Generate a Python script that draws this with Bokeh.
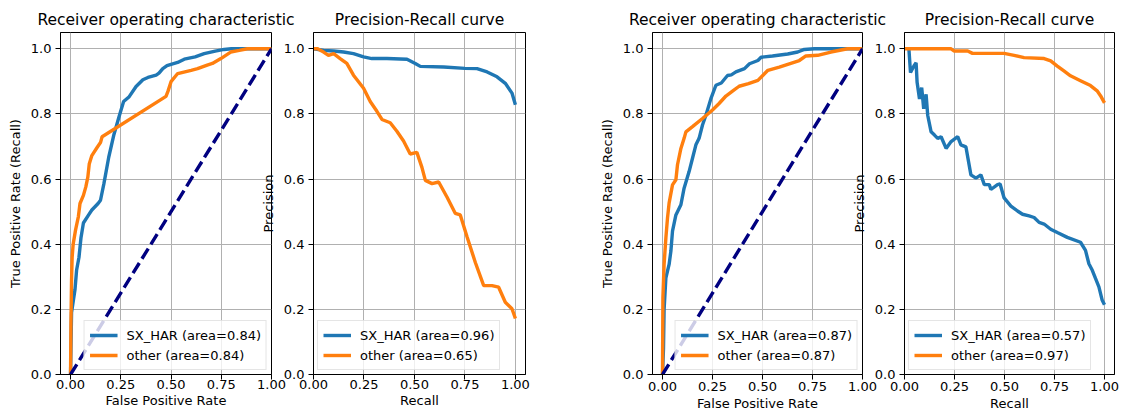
from bokeh.plotting import figure
from bokeh.layouts import row
from bokeh.models import Range1d, FixedTicker, NumeralTickFormatter
from bokeh.embed import file_html
from bokeh.resources import INLINE

# ---------------- data ----------------
roc_titles = "Receiver operating characteristic"
pr_titles = "Precision-Recall curve"
series_names = ["SX_HAR", "other"]

# panel 1 : ROC (left pair)
roc1_sx_fpr = [0, 0.005, 0.022, 0.03, 0.042, 0.052, 0.064, 0.09, 0.106, 0.137, 0.149, 0.166, 0.19,
               0.216, 0.242, 0.264, 0.292, 0.326, 0.36, 0.385, 0.426, 0.44, 0.459, 0.48, 0.5, 0.533,
               0.566, 0.62, 0.665, 0.72, 0.764, 0.8, 1.0]
roc1_sx_tpr = [0, 0.19, 0.26, 0.32, 0.36, 0.42, 0.465, 0.49, 0.505, 0.525, 0.535, 0.586, 0.667,
               0.737, 0.793, 0.838, 0.853, 0.884, 0.905, 0.912, 0.919, 0.925, 0.939, 0.948, 0.952,
               0.958, 0.968, 0.975, 0.985, 0.993, 0.998, 1.0, 1.0]
roc1_ot_fpr = [0, 0.002, 0.005, 0.008, 0.013, 0.025, 0.039, 0.047, 0.064, 0.076, 0.086, 0.093,
               0.106, 0.132, 0.149, 0.157, 0.475, 0.485, 0.5, 0.533, 0.6, 0.632, 0.68, 0.706, 0.748,
               0.797, 0.84, 0.88, 1.0]
roc1_ot_tpr = [0, 0.16, 0.29, 0.36, 0.40, 0.444, 0.485, 0.525, 0.55, 0.576, 0.606, 0.646, 0.672,
               0.697, 0.712, 0.73, 0.854, 0.87, 0.899, 0.924, 0.934, 0.939, 0.95, 0.955, 0.97, 0.99,
               0.995, 1.0, 1.0]
auc1 = [0.84, 0.84]

# panel 2 : PR (left pair)
pr2_sx_rec = [0, 0.05, 0.1, 0.149, 0.198, 0.248, 0.289, 0.364, 0.463, 0.504, 0.529, 0.645, 0.75,
              0.81, 0.86, 0.909, 0.95, 0.983, 1.0]
pr2_sx_pre = [1.0, 0.995, 0.993, 0.99, 0.985, 0.975, 0.97, 0.97, 0.968, 0.955, 0.946, 0.944, 0.94,
              0.939, 0.929, 0.914, 0.894, 0.864, 0.828]
pr2_ot_rec = [0, 0.02, 0.05, 0.074, 0.1, 0.132, 0.165, 0.198, 0.223, 0.248, 0.281, 0.314, 0.339,
              0.38, 0.413, 0.446, 0.479, 0.512, 0.537, 0.554, 0.587, 0.62, 0.661, 0.702, 0.727,
              0.76, 0.802, 0.843, 0.884, 0.917, 0.95, 0.983, 1.0]
pr2_ot_pre = [1.0, 1.0, 0.99, 0.98, 0.985, 0.97, 0.955, 0.919, 0.899, 0.879, 0.838, 0.808, 0.783,
              0.773, 0.747, 0.717, 0.677, 0.682, 0.636, 0.596, 0.586, 0.591, 0.545, 0.495, 0.49,
              0.424, 0.343, 0.273, 0.273, 0.268, 0.222, 0.202, 0.172]
ap2 = [0.96, 0.65]

# panel 3 : ROC (right pair)
roc3_sx_fpr = [0, 0.005, 0.008, 0.017, 0.033, 0.042, 0.05, 0.067, 0.092, 0.108, 0.133, 0.15,
               0.167, 0.183, 0.2, 0.217, 0.242, 0.267, 0.294, 0.325, 0.344, 0.367, 0.41, 0.435,
               0.477, 0.493, 0.55, 0.626, 0.676, 0.709, 0.759, 1.0]
roc3_sx_tpr = [0, 0.08, 0.2, 0.297, 0.338, 0.379, 0.44, 0.49, 0.521, 0.572, 0.623, 0.664, 0.705,
               0.725, 0.766, 0.796, 0.847, 0.888, 0.895, 0.918, 0.92, 0.929, 0.939, 0.954, 0.964,
               0.974, 0.978, 0.984, 0.99, 0.998, 1.0, 1.0]
roc3_ot_fpr = [0, 0.002, 0.008, 0.017, 0.025, 0.033, 0.05, 0.067, 0.075, 0.092, 0.108, 0.117,
               0.15, 0.2, 0.25, 0.283, 0.317, 0.35, 0.383, 0.43, 0.477, 0.527, 0.584, 0.634, 0.684,
               0.717, 0.776, 0.842, 0.925, 1.0]
roc3_ot_tpr = [0, 0.236, 0.338, 0.42, 0.48, 0.526, 0.582, 0.598, 0.644, 0.694, 0.725, 0.745,
               0.761, 0.786, 0.812, 0.832, 0.855, 0.87, 0.885, 0.893, 0.903, 0.934, 0.944, 0.954,
               0.964, 0.978, 0.98, 0.99, 1.0, 1.0]
auc3 = [0.87, 0.87]

# panel 4 : PR (right pair)
pr4_sx_rec = [0.022, 0.03, 0.047, 0.058, 0.063, 0.075, 0.086, 0.096, 0.108, 0.116, 0.133, 0.15,
              0.166, 0.183, 0.208, 0.233, 0.266, 0.282, 0.307, 0.332, 0.357, 0.382, 0.399, 0.424,
              0.432, 0.465, 0.478, 0.498, 0.532, 0.565, 0.59, 0.623, 0.648, 0.673, 0.698, 0.731,
              0.764, 0.814, 0.88, 0.905, 0.922, 0.939, 0.955, 0.972, 0.988, 1.0]
pr4_sx_pre = [1.0, 0.927, 0.947, 0.957, 0.897, 0.846, 0.881, 0.816, 0.86, 0.796, 0.745, 0.735,
              0.725, 0.73, 0.694, 0.715, 0.73, 0.705, 0.699, 0.613, 0.603, 0.613, 0.583, 0.583,
              0.568, 0.583, 0.585, 0.542, 0.517, 0.502, 0.492, 0.487, 0.482, 0.467, 0.462, 0.446,
              0.436, 0.421, 0.406, 0.381, 0.34, 0.32, 0.295, 0.269, 0.229, 0.214]
pr4_ot_rec = [0, 0.233, 0.249, 0.316, 0.34, 0.498, 0.548, 0.598, 0.698, 0.731, 0.764, 0.797, 0.83,
              0.88, 0.93, 0.963, 0.98, 1.0]
pr4_ot_pre = [1.0, 1.0, 0.993, 0.993, 0.986, 0.986, 0.98, 0.973, 0.97, 0.963, 0.947, 0.932, 0.917,
              0.902, 0.887, 0.871, 0.856, 0.834]
ap4 = [0.57, 0.97]

x_ticks = [0, 0.25, 0.5, 0.75, 1.0]
y_ticks = [0, 0.2, 0.4, 0.6, 0.8, 1.0]
diag = [0, 1]

# ---------------- style ----------------
FONT = "DejaVu Sans"
BLUE = "#1f77b4"
ORANGE = "#ff7f0e"
LW = 3.4
HEIGHT = 416


def make_fig(title, xr, xlabel, ylabel, width, bl, br, bb, margin, xstand):
    p = figure(width=width, height=HEIGHT, x_range=Range1d(*xr), y_range=Range1d(0, 1.05),
               output_backend="svg", toolbar_location=None, title=title,
               min_border_left=bl, min_border_right=br, min_border_top=32,
               min_border_bottom=bb, margin=margin)
    p.border_fill_alpha = 0
    p.background_fill_color = "white"
    p.outline_line_color = "black"
    p.outline_line_width = 1
    p.title.text_font = FONT
    p.title.text_font_size = "15.5px"
    p.title.text_font_style = "normal"
    p.title.text_color = "black"
    p.title.align = "center"
    p.title.standoff = 8
    p.xaxis.ticker = FixedTicker(ticks=x_ticks)
    p.yaxis.ticker = FixedTicker(ticks=y_ticks)
    p.xaxis.formatter = NumeralTickFormatter(format="0.00")
    p.yaxis.formatter = NumeralTickFormatter(format="0.0")
    p.xaxis.axis_label = xlabel
    p.yaxis.axis_label = ylabel
    for ax in (p.xaxis[0], p.yaxis[0]):
        ax.axis_label_text_font = FONT
        ax.axis_label_text_font_size = "13px"
        ax.axis_label_text_font_style = "normal"
        ax.axis_label_text_color = "black"
        ax.major_label_text_font = FONT
        ax.major_label_text_font_size = "13px"
        ax.major_label_text_color = "black"
        ax.axis_line_color = "black"
        ax.major_tick_line_color = "black"
        ax.major_tick_out = 5
        ax.major_tick_in = 0
        ax.minor_tick_line_color = None
    p.xaxis.major_label_standoff = xstand[0]
    p.xaxis.axis_label_standoff = xstand[1]
    p.yaxis.major_label_standoff = 4
    p.yaxis.axis_label_standoff = 5
    p.grid.grid_line_color = "#b0b0b0"
    p.grid.grid_line_width = 1
    p.xgrid.ticker = FixedTicker(ticks=x_ticks)
    p.ygrid.ticker = FixedTicker(ticks=y_ticks)
    return p


def style_legend(p, loc):
    lg = p.legend[0]
    lg.location = loc
    lg.label_text_font = FONT
    lg.label_text_font_size = "13px"
    lg.label_text_color = "black"
    lg.glyph_width = 28
    lg.glyph_height = 18
    lg.label_height = 18
    lg.label_standoff = 9
    lg.padding = 5
    lg.spacing = 2
    lg.margin = 4
    lg.border_line_color = "#cccccc"
    lg.border_line_width = 1
    lg.background_fill_alpha = 0.8


def roc_panel(sx_x, sx_y, ot_x, ot_y, auc, width, bl, br, bb, margin, xstand):
    p = make_fig(roc_titles, (-0.05, 1.0), "False Positive Rate", "True Positive Rate (Recall)",
                 width, bl, br, bb, margin, xstand)
    p.line(sx_x, sx_y, line_color=BLUE, line_width=LW,
           legend_label=f"{series_names[0]} (area={auc[0]:.2f})")
    p.line(ot_x, ot_y, line_color=ORANGE, line_width=LW,
           legend_label=f"{series_names[1]} (area={auc[1]:.2f})")
    p.line(diag, diag, line_color="navy", line_width=LW, line_dash="12 5")
    style_legend(p, "bottom_right")
    return p


def pr_panel(sx_x, sx_y, ot_x, ot_y, ap, width, bl, br, bb, margin, xstand):
    p = make_fig(pr_titles, (0, 1.05), "Recall", "Precision", width, bl, br, bb, margin, xstand)
    p.line(sx_x, sx_y, line_color=BLUE, line_width=LW,
           legend_label=f"{series_names[0]} (area={ap[0]:.2f})")
    p.line(ot_x, ot_y, line_color=ORANGE, line_width=LW,
           legend_label=f"{series_names[1]} (area={ap[1]:.2f})")
    style_legend(p, "bottom_left")
    return p


# canvases: p1 0-301, p2 255-594, p3 594-893, p4 846-1121
p1 = roc_panel(roc1_sx_fpr, roc1_sx_tpr, roc1_ot_fpr, roc1_ot_tpr, auc1,
               301, 60, 30, 39, (0, 0, 0, 0), (0, 1))
p2 = pr_panel(pr2_sx_rec, pr2_sx_pre, pr2_ot_rec, pr2_ot_pre, ap2,
              339, 58, 69, 39, (0, 0, 0, -46), (0, 1))
p3 = roc_panel(roc3_sx_fpr, roc3_sx_tpr, roc3_ot_fpr, roc3_ot_tpr, auc3,
               299, 58, 31, 42, (0, 0, 0, 0), (2, 2))
p4 = pr_panel(pr4_sx_rec, pr4_sx_pre, pr4_ot_rec, pr4_ot_pre, ap4,
              275, 58, 7, 42, (0, 0, 0, -47), (2, 2))

layout = row(p1, p2, p3, p4)
open("out.html", "w").write(file_html(layout, INLINE))
